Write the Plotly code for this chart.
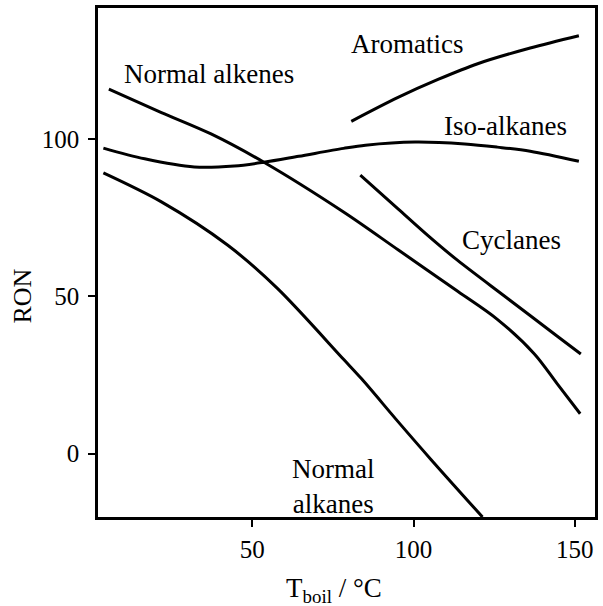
import plotly.graph_objects as go

# Research octane number (RON) versus boiling temperature for hydrocarbon families
normal_alkenes_t = [5.5, 21.8, 37.2, 53.6, 78.3, 95.2, 113.7, 126.0, 137.5, 144.6, 151.7]
normal_alkenes_ron = [115.8, 108.4, 101.6, 92.6, 76.8, 64.8, 51.6, 42.7, 31.7, 22.2, 12.7]

iso_alkanes_t = [3.8, 16.6, 32.0, 44.4, 53.6, 64.4, 78.3, 85.1, 100.5, 115.9, 126.0, 136.2, 151.3]
iso_alkanes_ron = [97.1, 93.7, 91.1, 91.4, 92.6, 94.5, 97.0, 98.0, 99.0, 98.4, 97.4, 96.1, 92.9]

normal_alkanes_t = [3.8, 21.8, 42.3, 57.7, 78.3, 83.9, 95.2, 105.4, 121.4]
normal_alkanes_ron = [89.2, 80.0, 66.3, 52.6, 30.0, 23.8, 10.2, -1.8, -20.1]

aromatics_t = [80.7, 95.2, 107.6, 119.9, 136.2, 151.3]
aromatics_ron = [105.6, 113.2, 118.9, 123.9, 128.9, 132.8]

cyclanes_t = [83.5, 95.2, 104.5, 113.7, 129.1, 144.5, 151.9]
cyclanes_ron = [88.5, 77.8, 69.3, 61.4, 49.4, 37.4, 31.7]

x_ticks = [50, 100, 150]
y_ticks = [0, 50, 100]

FONT = "Liberation Serif, Times New Roman, serif"

series = [
    ("Normal alkenes", normal_alkenes_t, normal_alkenes_ron),
    ("Iso-alkanes", iso_alkanes_t, iso_alkanes_ron),
    ("Normal alkanes", normal_alkanes_t, normal_alkanes_ron),
    ("Aromatics", aromatics_t, aromatics_ron),
    ("Cyclanes", cyclanes_t, cyclanes_ron),
]

fig = go.Figure()
for name, xs, ys in series:
    fig.add_trace(go.Scatter(
        x=xs, y=ys, name=name, mode="lines",
        line=dict(color="black", width=3, shape="spline", smoothing=0.9),
        showlegend=False, hoverinfo="skip",
    ))

# Curve labels placed beside each line
labels = [
    ("Aromatics", 98.0, 130.3),
    ("Normal alkenes", 36.6, 120.5),
    ("Iso-alkanes", 128.5, 104.0),
    ("Cyclanes", 130.3, 67.9),
    ("Normal<br>alkanes", 75.1, -10.4),
]
for text, x, y in labels:
    fig.add_annotation(x=x, y=y, xref="x", yref="y", text=text, showarrow=False,
                       font=dict(family=FONT, size=27, color="black"),
                       xanchor="center", yanchor="middle")

# Axis titles
fig.add_annotation(x=0.474, y=-0.1426, xref="paper", yref="paper",
                   text="T<sub>boil</sub> / °C", showarrow=False,
                   font=dict(family=FONT, size=27, color="black"),
                   xanchor="center", yanchor="middle")
fig.add_annotation(x=-0.152, y=0.434, xref="paper", yref="paper",
                   text="RON", textangle=-90, showarrow=False,
                   font=dict(family=FONT, size=26, color="black"),
                   xanchor="center", yanchor="middle")

axis_common = dict(
    showgrid=False, zeroline=False, showline=True, linecolor="black", linewidth=2.5,
    mirror=True, ticks="outside", ticklen=7, tickwidth=2, tickcolor="black",
    tickfont=dict(family=FONT, size=25, color="black"),
)
fig.update_xaxes(range=[2.13, 156.3], tickvals=x_ticks, ticklabelstandoff=1, **axis_common)
fig.update_yaxes(range=[-20.1, 141.6], tickvals=y_ticks, ticklabelstandoff=4, **axis_common)

fig.update_layout(
    width=603, height=606,
    margin=dict(l=98, r=5, t=5, b=89),
    paper_bgcolor="white", plot_bgcolor="white",
)

fig.write_html("out.html")
